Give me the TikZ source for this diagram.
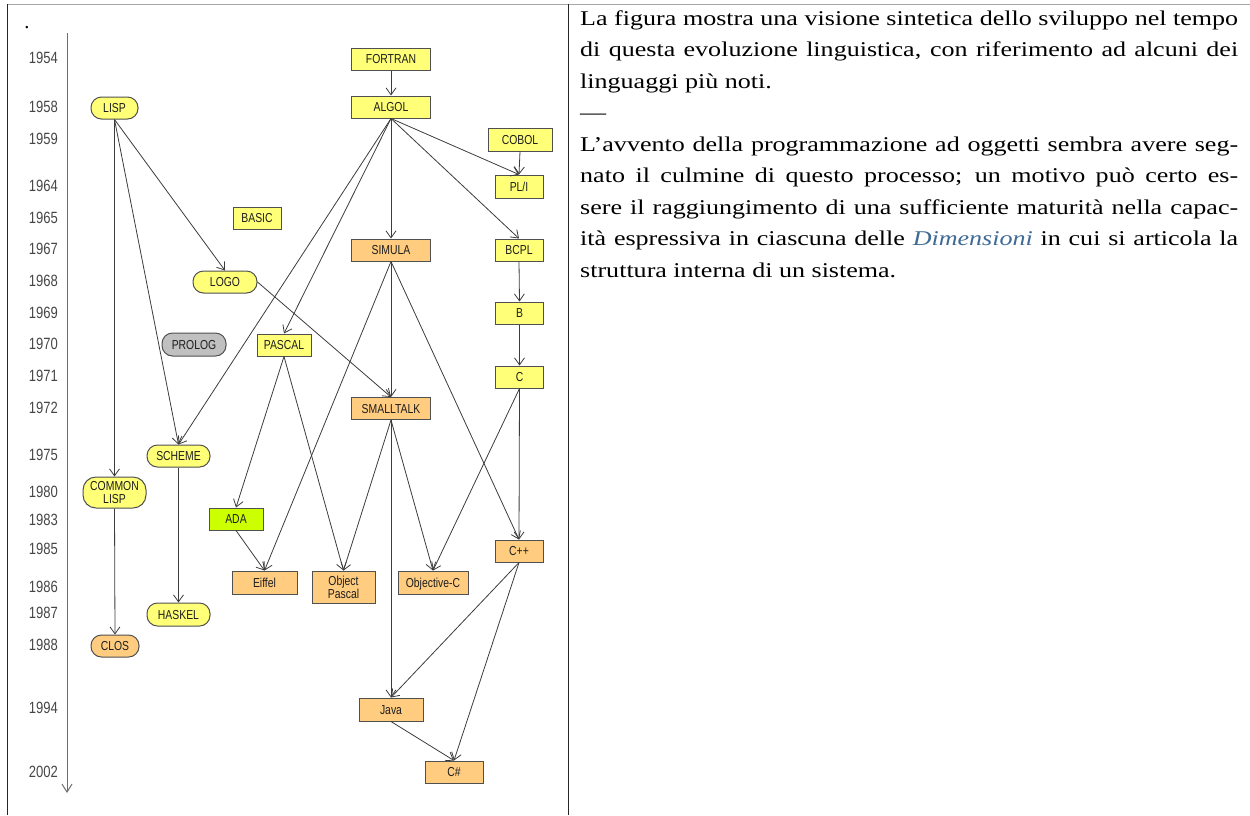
\documentclass[tikz,border=0pt]{standalone}
\usepackage{fontspec}
\setmainfont{Liberation Serif}
\newfontfamily\arialf{Liberation Sans}
\usetikzlibrary{arrows.meta}
\definecolor{yel}{RGB}{255,255,120}
\definecolor{ora}{RGB}{255,204,128}
\definecolor{grn}{RGB}{204,255,0}
\definecolor{gry}{RGB}{192,192,192}
\definecolor{bord}{RGB}{80,80,80}
\definecolor{ntext}{RGB}{30,30,30}
\definecolor{edgec}{RGB}{60,60,60}
\definecolor{yearc}{RGB}{70,70,70}
\definecolor{axisc}{RGB}{110,110,110}
\definecolor{dimb}{RGB}{62,106,150}
\newcommand{\hsq}[1]{\scalebox{0.8}[1]{#1}}
\newcommand{\jline}[1]{\makebox[\linewidth][s]{#1}\par}
\begin{document}
\begin{tikzpicture}[x=1pt,y=-1pt,
  lang/.style={draw=bord, line width=1pt, font=\arialf\fontsize{13}{13.3}\selectfont, text=ntext, inner sep=0pt, align=center},
  one/.style={text height=9.4pt, text depth=0pt},
  yb/.style={lang, one, fill=yel},
  ob/.style={lang, one, fill=ora},
  pill/.style={rounded corners=10.5pt},
  edge/.style={draw=edgec, line width=0.8pt, -{Straight Barb[length=7pt,width=10pt]}},
  yr/.style={anchor=east, inner sep=0pt, text=yearc, font=\arialf\fontsize{16.3}{16}\selectfont, text height=11.7pt, text depth=0pt}
]
\useasboundingbox (0,0) rectangle (1250,815);
% table frame
\draw[draw=gray!70, line width=1.6pt] (7,4.5) -- (1250,4.5);
\draw[black!85, line width=1pt] (7,4) -- (7,815);
\draw[black!85, line width=1pt] (568,4) -- (568,815);
\node[anchor=base, inner sep=0pt, font=\fontsize{20.5}{24}\selectfont] (dot) at (27,28) {.};
% time axis
\coordinate (axtop) at (67,33);
\coordinate (axbot) at (67,793);
\draw[draw=axisc, line width=1pt, -{Straight Barb[length=8pt,width=10pt]}] (axtop) -- (axbot);
% years
\node[yr] (y1954) at (58,58) {\hsq{1954}};
\node[yr] (y1958) at (58,106.5) {\hsq{1958}};
\node[yr] (y1959) at (58,138.5) {\hsq{1959}};
\node[yr] (y1964) at (58,185.5) {\hsq{1964}};
\node[yr] (y1965) at (58,217.5) {\hsq{1965}};
\node[yr] (y1967) at (58,248.5) {\hsq{1967}};
\node[yr] (y1968) at (58,280.5) {\hsq{1968}};
\node[yr] (y1969) at (58,312.5) {\hsq{1969}};
\node[yr] (y1970) at (58,344) {\hsq{1970}};
\node[yr] (y1971) at (58,376) {\hsq{1971}};
\node[yr] (y1972) at (58,407.5) {\hsq{1972}};
\node[yr] (y1975) at (58,454.5) {\hsq{1975}};
\node[yr] (y1980) at (58,491.5) {\hsq{1980}};
\node[yr] (y1983) at (58,520) {\hsq{1983}};
\node[yr] (y1985) at (58,549) {\hsq{1985}};
\node[yr] (y1986) at (58,586.5) {\hsq{1986}};
\node[yr] (y1987) at (58,613) {\hsq{1987}};
\node[yr] (y1988) at (58,645) {\hsq{1988}};
\node[yr] (y1994) at (58,708) {\hsq{1994}};
\node[yr] (y2002) at (58,772) {\hsq{2002}};
% languages
\node[yb, minimum width=79pt, minimum height=22pt] (fortran) at (391,59) {\hsq{FORTRAN}};
\node[yb, minimum width=79pt, minimum height=22pt] (algol) at (391,107) {\hsq{ALGOL}};
\node[yb, minimum width=64pt, minimum height=23pt] (cobol) at (520,139.5) {\hsq{COBOL}};
\node[yb, minimum width=48pt, minimum height=23pt] (pli) at (519,186.5) {\hsq{PL/I}};
\node[ob, minimum width=79pt, minimum height=22pt] (simula) at (391,250) {\hsq{SIMULA}};
\node[yb, minimum width=48pt, minimum height=22pt] (bcpl) at (519,250) {\hsq{BCPL}};
\node[yb, minimum width=48pt, minimum height=22pt] (b) at (519.5,313) {\hsq{B}};
\node[yb, minimum width=48pt, minimum height=22pt] (c) at (519.5,377) {\hsq{C}};
\node[ob, minimum width=79pt, minimum height=22pt] (smalltalk) at (391,408.5) {\hsq{SMALLTALK}};
\node[ob, minimum width=48pt, minimum height=22pt] (cpp) at (519,551) {\hsq{C++}};
\node[yb, pill, minimum width=47pt, minimum height=22pt] (lisp) at (114.5,108) {\hsq{LISP}};
\node[yb, minimum width=48pt, minimum height=22pt] (basic) at (257,218) {\hsq{BASIC}};
\node[yb, pill, minimum width=64pt, minimum height=22pt] (logo) at (225,282) {\hsq{LOGO}};
\node[lang, one, fill=gry, pill, minimum width=64pt, minimum height=23pt] (prolog) at (194,344.5) {\hsq{PROLOG}};
\node[yb, minimum width=54pt, minimum height=22pt] (pascal) at (284,345) {\hsq{PASCAL}};
\node[yb, pill, minimum width=63pt, minimum height=22pt] (scheme) at (178.5,456) {\hsq{SCHEME}};
\node[lang, fill=yel, rounded corners=13pt, minimum width=63pt, minimum height=31pt] (commonlisp) at (114.5,492.5) {\hsq{COMMON}\\\hsq{LISP}};
\node[lang, one, fill=grn, minimum width=54pt, minimum height=22pt] (ada) at (236,519) {\hsq{ADA}};
\node[ob, minimum width=65pt, minimum height=23pt] (eiffel) at (264.5,582.5) {\hsq{Eiffel}};
\node[lang, fill=ora, minimum width=63pt, minimum height=32pt] (objpascal) at (343.5,587) {\hsq{Object}\\\hsq{Pascal}};
\node[ob, minimum width=70pt, minimum height=23pt] (objc) at (433,582.5) {\hsq{Objective-C}};
\node[yb, pill, minimum width=63pt, minimum height=23pt] (haskel) at (178.5,614.5) {\hsq{HASKEL}};
\node[ob, pill, minimum width=48pt, minimum height=22pt] (clos) at (115,646) {\hsq{CLOS}};
\node[ob, minimum width=64pt, minimum height=23pt] (java) at (391,709.5) {\hsq{Java}};
\node[ob, minimum width=58pt, minimum height=22pt] (csharp) at (454,772) {\hsq{C\#}};
% connectors
\draw[edge] (fortran.south) -- (algol.north);
\draw[edge] (algol.south) -- (simula.north);
\draw[edge] (algol.south) -- (pli.north);
\draw[edge] (algol.south) -- (bcpl.north);
\draw[edge] (algol.south) -- (scheme.north);
\draw[edge] (algol.south) -- (pascal.north);
\draw[edge] (cobol.south) -- (pli.north);
\draw[edge] (lisp.south) -- (logo.north);
\draw[edge] (lisp.south) -- (commonlisp.north);
\draw[edge] (lisp.south) -- (scheme.north);
\draw[edge] (logo.east) -- (smalltalk.north);
\draw[edge] (bcpl.south) -- (b.north);
\draw[edge] (b.south) -- (c.north);
\draw[edge] (simula.south) -- (smalltalk.north);
\draw[edge] (simula.south) -- (cpp.north);
\draw[edge] (simula.south) -- (eiffel.north);
\draw[edge] (pascal.south) -- (ada.north);
\draw[edge] (pascal.south) -- (objpascal.north);
\draw[edge] (ada.south) -- (eiffel.north);
\draw[edge] (smalltalk.south) -- (objpascal.north);
\draw[edge] (smalltalk.south) -- (java.north);
\draw[edge] (smalltalk.south) -- (objc.north);
\draw[edge] (c.south) -- (objc.north);
\draw[edge] (c.south) -- (cpp.north);
\draw[edge] (scheme.south) -- (haskel.north);
\draw[edge] (commonlisp.south) -- (clos.north);
\draw[edge] (cpp.south) -- (java.north);
\draw[edge] (cpp.south) -- (csharp.north);
\draw[edge] (java.south) -- (csharp.north);
% right text
\node[anchor=base west, inner sep=0pt] (txt) at (580,25) {\scalebox{1.24}[1]{\begin{minipage}[t]{530.6pt}\fontsize{21}{31.5}\selectfont\setlength{\parindent}{0pt}\setlength{\parskip}{0pt}%
\jline{La figura mostra una visione sintetica dello sviluppo nel tempo}
\jline{di questa evoluzione linguistica, con riferimento ad alcuni dei}
linguaggi più noti.\par
—\par
\jline{L’avvento della programmazione ad oggetti sembra avere seg-}
\jline{nato il culmine di questo processo; un motivo può certo es-}
\jline{sere il raggiungimento di una sufficiente maturità nella capac-}
\jline{ità espressiva in ciascuna delle \textit{\textcolor{dimb}{Dimensioni}} in cui si articola la}
struttura interna di un sistema.\par
\end{minipage}}};
\end{tikzpicture}
\end{document}
